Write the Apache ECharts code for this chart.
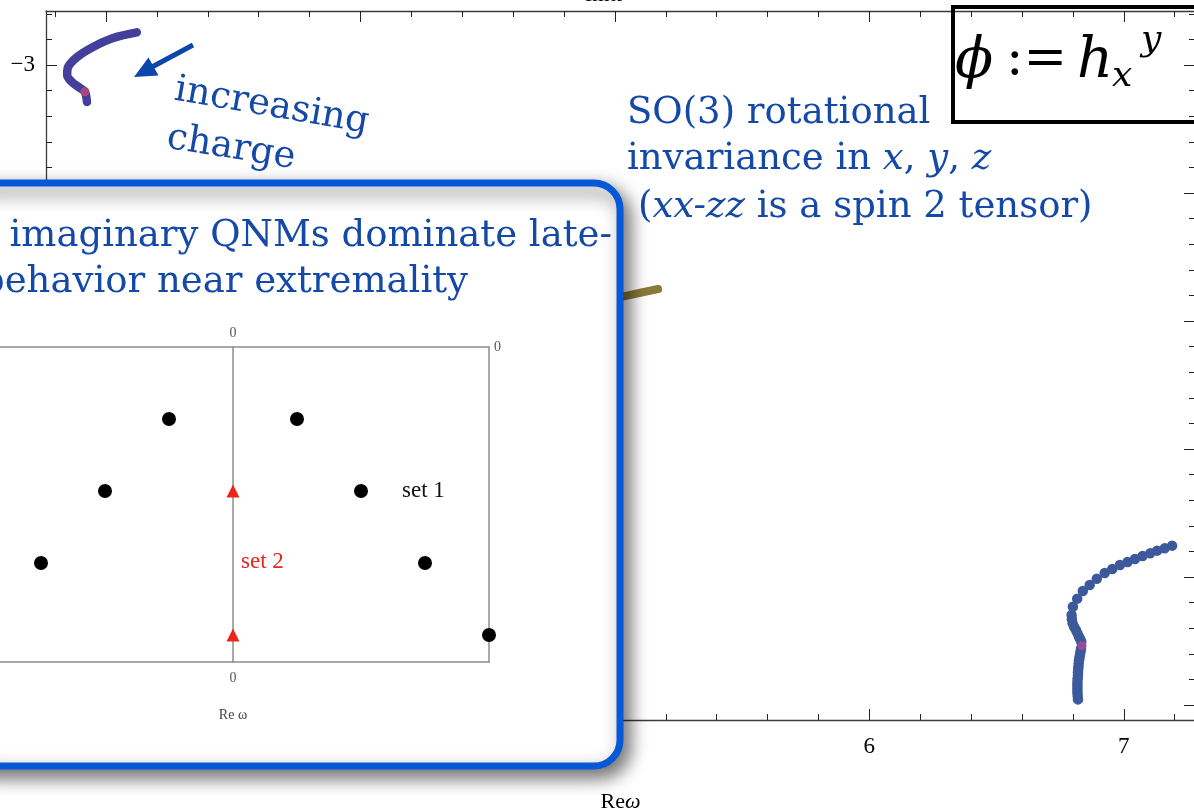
<!DOCTYPE html>
<html><head><meta charset="utf-8">
<script src="https://cdn.jsdelivr.net/npm/echarts@6/dist/echarts.min.js"></script>
<style>html,body{margin:0;padding:0;background:#fff;overflow:hidden}#c{width:1194px;height:810px}</style>
</head><body><div id="c"></div>
<script>
// ---- main plot axes (Re ω, Im ω) ----
const xRange = [2.764, 7.28];
const yRange = [-8.117, -2.578];
const xMajorTicks = [3, 4, 5, 6, 7];
const xMinorTicks = [2.8, 3.2, 3.4, 3.6, 3.8, 4.2, 4.4, 4.6, 4.8, 5.2, 5.4, 5.6, 5.8, 6.2, 6.4, 6.6, 6.8, 7.2];
const yMajorTicks = [-8, -7, -6, -5, -4, -3];
const yMinorTicks = [-7.8, -7.6, -7.4, -7.2, -6.8, -6.6, -6.4, -6.2, -5.8, -5.6, -5.4, -5.2,
                     -4.8, -4.6, -4.4, -4.2, -3.8, -3.6, -3.4, -3.2, -2.8, -2.6];

// ---- main plot series (Re ω, Im ω) ----
const topCurve = [[3.121,-2.745],[3.028,-2.789],[2.949,-2.859],[2.886,-2.938],[2.851,-3.016],
                  [2.847,-3.078],[2.866,-3.133],[2.898,-3.180],[2.917,-3.211],[2.925,-3.289]];
const topMarker = [[2.917,-3.209]];
const oliveCurve = [[4.90,-4.87],[5.03,-4.81],[5.17,-4.75]];
const bottomCurve = [[7.190,-6.755],[7.161,-6.776],[7.131,-6.794],[7.104,-6.815],[7.074,-6.836],
                     [7.044,-6.859],[7.015,-6.883],[6.985,-6.906],[6.955,-6.938],[6.925,-6.969],
                     [6.894,-7.013],[6.866,-7.063],[6.839,-7.109],[6.817,-7.169],[6.800,-7.232],
                     [6.795,-7.297],[6.796,-7.330],[6.799,-7.362],[6.805,-7.390],[6.812,-7.414],
                     [6.818,-7.440],[6.824,-7.466],[6.829,-7.486],[6.833,-7.505],
                     [6.832,-7.560],[6.830,-7.583],[6.828,-7.606],[6.826,-7.628],[6.824,-7.651],
                     [6.823,-7.674],[6.822,-7.698],[6.821,-7.721],[6.820,-7.744],[6.820,-7.766],
                     [6.819,-7.790],[6.818,-7.813],[6.818,-7.835],[6.818,-7.857],[6.818,-7.880],
                     [6.818,-7.904],[6.819,-7.930],[6.820,-7.956]];
const bottomMarker = [[6.836,-7.536]];

// ---- inset plot ----
const insetXRange = [-4, 4];
const insetYRange = [-4.375, 0];
const insetSet1 = [[-1,-1],[1,-1],[-2,-2],[2,-2],[-3,-3],[3,-3],[-4,-4],[4,-4]];
const insetSet2 = [[0,-2],[0,-4]];

const SERIF = 'Liberation Serif';
const BLUE_TXT = '#1449a8';
const fmt = v => (v < 0 ? '\u2212' + Math.abs(v) : String(v));

function mainAxis(pos, ticks, len, line, labels, extra) {
  const isX = pos === 'bottom' || pos === 'top';
  const r = isX ? xRange : yRange;
  return Object.assign({
    type: 'value', gridIndex: 0, position: pos, min: r[0], max: r[1], z: 0,
    axisLine: { show: line, onZero: false, lineStyle: { color: '#3a3a3a', width: 1.3 } },
    axisTick: { show: true, inside: true, length: len, customValues: ticks, lineStyle: { color: '#222', width: 1 } },
    axisLabel: labels ? { show: true, customValues: ticks, formatter: fmt, color: '#000', fontFamily: SERIF, fontSize: 23, margin: isX ? 15 : 11 } : { show: false },
    splitLine: { show: false }, minorTick: { show: false }
  }, extra || {});
}

const insetAxisLabel = { show: true, customValues: [0], formatter: () => '0', color: '#555', fontFamily: SERIF, fontSize: 14 };
const insetLine = { color: '#8c8c8c', width: 1.5 };

const option = {
  animation: false,
  backgroundColor: '#fff',
  grid: [
    { left: 46, top: 11, width: 1149, height: 709, outerBoundsMode: 'none', containLabel: false },
    { left: -23, top: 347, width: 512, height: 315, outerBoundsMode: 'none', containLabel: false }
  ],
  xAxis: [
    mainAxis('bottom', xMajorTicks, 11, true, true, {
      name: 'Re{i|ω}', nameLocation: 'middle', nameGap: 71,
      nameTextStyle: { fontFamily: SERIF, fontSize: 22, color: '#000',
        rich: { i: { fontFamily: SERIF, fontStyle: 'italic', fontSize: 22, color: '#000' } } }
    }),
    mainAxis('bottom', xMinorTicks, 6, false, false),
    mainAxis('top', xMajorTicks, 11, true, false),
    mainAxis('top', xMinorTicks, 6, false, false),
    { type: 'value', gridIndex: 1, position: 'bottom', min: insetXRange[0], max: insetXRange[1], z: 100,
      axisLine: { show: true, onZero: false, lineStyle: insetLine }, axisTick: { show: false },
      axisLabel: Object.assign({}, insetAxisLabel, { margin: 9 }), splitLine: { show: false },
      name: 'Re ω', nameLocation: 'middle', nameGap: 46,
      nameTextStyle: { fontFamily: SERIF, fontSize: 14, color: '#444' } },
    { type: 'value', gridIndex: 1, position: 'top', min: insetXRange[0], max: insetXRange[1], z: 100,
      axisLine: { show: true, onZero: false, lineStyle: insetLine }, axisTick: { show: false },
      axisLabel: Object.assign({}, insetAxisLabel, { margin: 7 }), splitLine: { show: false } }
  ],
  yAxis: [
    mainAxis('left', yMajorTicks, 11, true, true),
    mainAxis('left', yMinorTicks, 6, false, false),
    mainAxis('right', yMajorTicks, 11, true, false),
    mainAxis('right', yMinorTicks, 6, false, false),
    { type: 'value', gridIndex: 1, position: 'right', min: insetYRange[0], max: insetYRange[1], z: 100,
      axisLine: { show: true, onZero: false, lineStyle: insetLine }, axisTick: { show: false },
      axisLabel: Object.assign({}, insetAxisLabel, { margin: 5 }), splitLine: { show: false } },
    { type: 'value', gridIndex: 1, position: 'left', min: insetYRange[0], max: insetYRange[1], z: 100,
      axisLine: { show: true, onZero: true, lineStyle: insetLine }, axisTick: { show: false },
      axisLabel: { show: false }, splitLine: { show: false } }
  ],
  series: [
    { type: 'line', xAxisIndex: 0, yAxisIndex: 0, data: topCurve, smooth: 0.35, symbol: 'none', showSymbol: false,
      lineStyle: { color: '#433f9a', width: 8.5, cap: 'round', join: 'round' }, z: 3 },
    { type: 'scatter', xAxisIndex: 0, yAxisIndex: 0, data: topMarker, symbolSize: 9,
      itemStyle: { color: '#a8467c', opacity: 1 }, z: 4 },
    { type: 'line', xAxisIndex: 0, yAxisIndex: 0, data: oliveCurve, smooth: true, symbol: 'none', showSymbol: false,
      lineStyle: { color: '#8a7a3a', width: 8, cap: 'round' }, z: 3 },
    { type: 'scatter', xAxisIndex: 0, yAxisIndex: 0, data: bottomCurve, symbolSize: 10.5,
      itemStyle: { color: '#3c5a9b', opacity: 1 }, z: 3 },
    { type: 'scatter', xAxisIndex: 0, yAxisIndex: 0, data: bottomMarker, symbolSize: 9,
      itemStyle: { color: '#9a4a98', opacity: 1 }, z: 4 },
    { type: 'scatter', xAxisIndex: 4, yAxisIndex: 4, data: insetSet1, symbolSize: 14,
      itemStyle: { color: '#000', opacity: 1 }, z: 110 },
    { type: 'scatter', xAxisIndex: 4, yAxisIndex: 4, data: insetSet2, symbol: 'triangle', symbolSize: 13,
      itemStyle: { color: '#e8261e', opacity: 1 }, z: 110 }
  ],
  graphic: [
    // y-axis label at top (cut off)
    { type: 'text', x: 605, y: 6, z: 5, style: { text: 'Im{i|ω}', fontFamily: SERIF, fontSize: 22, fill: '#000',
      align: 'center', verticalAlign: 'bottom', rich: { i: { fontFamily: SERIF, fontStyle: 'italic', fontSize: 22, fill: '#000' } } } },
    // arrow
    { type: 'polyline', z: 5, shape: { points: [[193, 45], [151, 67.5]] }, style: { stroke: '#0b46ab', lineWidth: 5, fill: null } },
    { type: 'polygon', z: 5, shape: { points: [[134, 77], [158.5, 75.5], [148.5, 57.5]] }, style: { fill: '#0b46ab' } },
    { type: 'text', x: 175, y: 90, rotation: -0.17, z: 5, style: { text: 'increasing', fontFamily: 'DejaVu Serif', fontSize: 37, fill: BLUE_TXT, align: 'left', verticalAlign: 'middle' } },
    { type: 'text', x: 167, y: 138, rotation: -0.16, z: 5, style: { text: 'charge', fontFamily: 'DejaVu Serif', fontSize: 37, fill: BLUE_TXT, align: 'left', verticalAlign: 'middle' } },
    // right annotation
    { type: 'text', x: 627, y: 113, z: 5, style: { text: 'SO(3) rotational', fontFamily: 'DejaVu Serif', fontSize: 37, fill: BLUE_TXT, align: 'left', verticalAlign: 'middle' } },
    { type: 'text', x: 627, y: 159, z: 5, style: { text: 'invariance in {i|x}, {i|y}, {i|z}', fontFamily: 'DejaVu Serif', fontSize: 37, fill: BLUE_TXT, align: 'left', verticalAlign: 'middle',
      rich: { i: { fontFamily: 'DejaVu Serif', fontStyle: 'italic', fontSize: 37, fill: BLUE_TXT } } } },
    { type: 'text', x: 638, y: 207, z: 5, style: { text: '({i|xx-zz} is a spin 2 tensor)', fontFamily: 'DejaVu Serif', fontSize: 37, fill: BLUE_TXT, align: 'left', verticalAlign: 'middle',
      rich: { i: { fontFamily: 'DejaVu Serif', fontStyle: 'italic', fontSize: 37, fill: BLUE_TXT } } } },
    // formula box
    { type: 'rect', z: 5, shape: { x: 953, y: 7, width: 300, height: 115 }, style: { fill: null, stroke: '#000', lineWidth: 4 } },
    { type: 'text', x: 955, y: 62, z: 6, style: { text: 'ϕ', fontFamily: 'DejaVu Serif', fontStyle: 'italic', fontSize: 56, fill: '#000', align: 'left', verticalAlign: 'middle' } },
    { type: 'text', x: 1006, y: 60, z: 6, style: { text: ':=', fontFamily: 'DejaVu Serif', fontSize: 52, fill: '#000', align: 'left', verticalAlign: 'middle' } },
    { type: 'text', x: 1077, y: 62, z: 6, style: { text: 'h', fontFamily: 'DejaVu Serif', fontStyle: 'italic', fontSize: 56, fill: '#000', align: 'left', verticalAlign: 'middle' } },
    { type: 'text', x: 1112, y: 77, z: 6, style: { text: 'x', fontFamily: 'DejaVu Serif', fontStyle: 'italic', fontSize: 36, fill: '#000', align: 'left', verticalAlign: 'middle' } },
    { type: 'text', x: 1141, y: 41, z: 6, style: { text: 'y', fontFamily: 'DejaVu Serif', fontStyle: 'italic', fontSize: 36, fill: '#000', align: 'left', verticalAlign: 'middle' } },
    // inset panel
    { type: 'rect', z: 50, shape: { x: -40, y: 183, width: 660, height: 583, r: 26 },
      style: { fill: '#fff', stroke: '#0558d6', lineWidth: 7, shadowBlur: 18, shadowColor: 'rgba(0,0,0,0.55)', shadowOffsetX: 6, shadowOffsetY: 8 } },
    { type: 'text', x: 612, y: 236, z: 60, style: { text: 'Purely imaginary QNMs dominate late-', fontFamily: 'DejaVu Serif', fontSize: 37, fill: BLUE_TXT, align: 'right', verticalAlign: 'middle' } },
    { type: 'text', x: 468, y: 282, z: 60, style: { text: 'time behavior near extremality', fontFamily: 'DejaVu Serif', fontSize: 37, fill: BLUE_TXT, align: 'right', verticalAlign: 'middle' } },
    { type: 'text', x: 402, y: 491, z: 120, style: { text: 'set 1', fontFamily: SERIF, fontSize: 23, fill: '#111', align: 'left', verticalAlign: 'middle' } },
    { type: 'text', x: 241, y: 562, z: 120, style: { text: 'set 2', fontFamily: SERIF, fontSize: 23, fill: '#e8261e', align: 'left', verticalAlign: 'middle' } }
  ]
};

const chart = echarts.init(document.getElementById('c'), null, { renderer: 'canvas' });
chart.setOption(option);
</script>
</body></html>
